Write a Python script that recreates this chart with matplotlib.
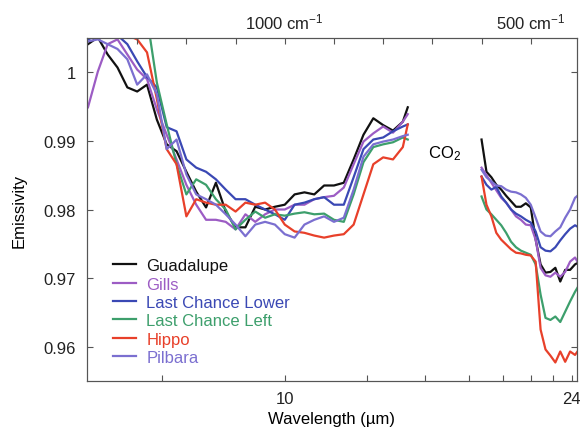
import matplotlib
matplotlib.use('Agg')
import matplotlib.pyplot as plt

plt.rcParams['font.family'] = ['Liberation Sans', 'DejaVu Sans']
plt.rcParams['font.size'] = 12
plt.rcParams['mathtext.fontset'] = 'custom'
plt.rcParams['mathtext.rm'] = 'Liberation Sans'
plt.rcParams['mathtext.default'] = 'regular'

# wavenumbers (cm-1) of the two spectral windows either side of the CO2 band
wn_short = [1400, 1380, 1360, 1340, 1320, 1300, 1280, 1260, 1240, 1220, 1200, 1180,
            1160, 1140, 1120, 1100, 1080, 1060, 1040, 1020, 1000, 980, 960, 940,
            920, 900, 880, 860, 840, 820, 800, 780, 760, 750]
wn_long = [600, 590, 580, 570, 560, 550, 540, 530, 520, 510, 500, 490, 480, 470,
           460, 450, 440, 430, 420, 410, 405]

guadalupe_short = [1.0041, 1.0051, 1.0026, 1.0007, 0.9978, 0.9972, 0.9982, 0.9931, 0.9895, 0.9885,
                   0.9855, 0.9826, 0.9803, 0.9839, 0.9797, 0.9774, 0.9774, 0.9804, 0.9800, 0.9804,
                   0.9807, 0.9822, 0.9825, 0.9822, 0.9835, 0.9835, 0.9839, 0.9873, 0.9909, 0.9933,
                   0.9923, 0.9915, 0.9928, 0.9949]
gills_short = [0.9949, 1.0001, 1.0041, 1.0048, 1.0026, 1.0004, 0.9990, 0.9946, 0.9909, 0.9873,
               0.9836, 0.9807, 0.9785, 0.9785, 0.9782, 0.9771, 0.9793, 0.9782, 0.9793, 0.9800,
               0.9800, 0.9807, 0.9807, 0.9815, 0.9818, 0.9820, 0.9832, 0.9866, 0.9899, 0.9911,
               0.9921, 0.9912, 0.9928, 0.9939]
lc_lower_short = [1.0048, 1.0054, 1.0051, 1.0054, 1.0041, 1.0016, 0.9993, 0.9978, 0.9920, 0.9914,
                  0.9873, 0.9861, 0.9855, 0.9844, 0.9829, 0.9815, 0.9815, 0.9807, 0.9800, 0.9793,
                  0.9785, 0.9807, 0.9810, 0.9815, 0.9818, 0.9807, 0.9807, 0.9847, 0.9888, 0.9902,
                  0.9905, 0.9914, 0.9921, 0.9924]
lc_left_short = [1.008, 1.008, 1.008, 1.008, 1.008, 1.008, 1.008, 0.9985, 0.9924, 0.9866,
                 0.9822, 0.9844, 0.9836, 0.9815, 0.9800, 0.9771, 0.9785, 0.9797, 0.9788, 0.9793,
                 0.9791, 0.9794, 0.9796, 0.9793, 0.9794, 0.9785, 0.9782, 0.9822, 0.9869, 0.9891,
                 0.9895, 0.9898, 0.9905, 0.9902]
hippo_short = [1.0051, 1.0054, 1.0054, 1.0051, 1.0054, 1.0048, 1.0029, 0.9961, 0.9888, 0.9866,
               0.9790, 0.9815, 0.9810, 0.9807, 0.9807, 0.9797, 0.9810, 0.9807, 0.9810, 0.9800,
               0.9778, 0.9768, 0.9766, 0.9762, 0.9759, 0.9762, 0.9764, 0.9778, 0.9822, 0.9866,
               0.9876, 0.9873, 0.9891, 0.9924]
pilbara_short = [1.0045, 1.0048, 1.0041, 1.0034, 1.0019, 0.9982, 0.9997, 0.9968, 0.9888, 0.9902,
                 0.9851, 0.9822, 0.9815, 0.9807, 0.9793, 0.9778, 0.9761, 0.9778, 0.9782, 0.9778,
                 0.9764, 0.9759, 0.9778, 0.9785, 0.9790, 0.9782, 0.9788, 0.9829, 0.9877, 0.9895,
                 0.9899, 0.9902, 0.9907, 0.9909]

guadalupe_long = [0.9902, 0.9855, 0.9847, 0.9836, 0.9829, 0.9820, 0.9812, 0.9804, 0.9804, 0.9809,
                  0.9803, 0.9756, 0.9720, 0.9708, 0.9709, 0.9715, 0.9695, 0.9712, 0.9712, 0.9720, 0.9722]
gills_long = [0.9861, 0.9850, 0.9839, 0.9828, 0.9817, 0.9810, 0.9800, 0.9790, 0.9785, 0.9778,
              0.9777, 0.9756, 0.9715, 0.9704, 0.9702, 0.9708, 0.9702, 0.9709, 0.9724, 0.9730, 0.9724]
lc_lower_long = [0.9848, 0.9836, 0.9829, 0.9833, 0.9819, 0.9810, 0.9800, 0.9794, 0.9790, 0.9785,
                 0.9781, 0.9768, 0.9745, 0.9740, 0.9739, 0.9745, 0.9755, 0.9764, 0.9772, 0.9777, 0.9775]
lc_left_long = [0.9819, 0.9800, 0.9793, 0.9785, 0.9777, 0.9766, 0.9753, 0.9745, 0.9740, 0.9737,
                0.9734, 0.9720, 0.9676, 0.9642, 0.9639, 0.9644, 0.9636, 0.9651, 0.9666, 0.9680, 0.9686]
hippo_long = [0.9848, 0.9807, 0.9790, 0.9766, 0.9756, 0.9749, 0.9742, 0.9737, 0.9736, 0.9734,
              0.9733, 0.9724, 0.9625, 0.9596, 0.9587, 0.9577, 0.9593, 0.9578, 0.9593, 0.9588, 0.9593]
pilbara_long = [0.9858, 0.9847, 0.9841, 0.9835, 0.9834, 0.9829, 0.9826, 0.9825, 0.9822, 0.9817,
                0.9807, 0.9788, 0.9768, 0.9762, 0.9761, 0.9768, 0.9774, 0.9788, 0.9800, 0.9817, 0.9820]

names = ['Guadalupe', 'Gills', 'Last Chance Lower', 'Last Chance Left', 'Hippo', 'Pilbara']
colors = ['#111111', '#9c5cc4', '#3a48b4', '#3d9f6c', '#e8402a', '#7b6fd0']
short_series = [guadalupe_short, gills_short, lc_lower_short, lc_left_short, hippo_short, pilbara_short]
long_series = [guadalupe_long, gills_long, lc_lower_long, lc_left_long, hippo_long, pilbara_long]

# bottom axis shows wavelength, top axis wavenumber
wl_ticks = [8, 10, 12, 14, 16, 18, 20, 22, 24]
wl_labels = ['', '10', '', '', '', '', '', '', '24']
wn_ticks = [1300, 1200, 1100, 1000, 900, 800, 700, 600, 500]
wn_labels = ['', '', '', '1000 cm$^{-1}$', '', '', '', '', '500 cm$^{-1}$']
y_ticks = [0.96, 0.97, 0.98, 0.99, 1.0]
y_labels = ['0.96', '0.97', '0.98', '0.99', '1']

fig = plt.figure(figsize=(5.8, 4.31), dpi=100)
ax = fig.add_axes([0.15, 0.1137, 0.8448, 0.7958])

for name, color, s1, s2 in zip(names, colors, short_series, long_series):
    ax.plot(wn_short, s1, color=color, lw=1.6, label=name)
    ax.plot(wn_long, s2, color=color, lw=1.6)

ax.set_xlim(1402, 406)
ax.set_ylim(0.955, 1.005)

ax.set_xticks([1e4 / w for w in wl_ticks])
ax.set_xticklabels(wl_labels)
ax.set_yticks(y_ticks)
ax.set_yticklabels(y_labels)
ax.tick_params(direction='in', length=4, right=True, top=False, colors='#555555',
               labelcolor='#222222')
ax.tick_params(axis='x', pad=7)
ax.tick_params(axis='y', pad=8)

top = ax.twiny()
top.set_xlim(ax.get_xlim())
top.set_xticks(wn_ticks)
top.set_xticklabels(wn_labels)
top.tick_params(direction='in', length=4, colors='#555555', labelcolor='#222222', pad=5)

for sp in list(ax.spines.values()) + list(top.spines.values()):
    sp.set_color('#555555')

ax.set_xlabel('Wavelength (\u00b5m)', labelpad=4)
ax.set_ylabel('Emissivity')
ax.yaxis.set_label_coords(-0.123, 0.5)

ax.text(675, 0.9883, 'CO$_2$', ha='center', va='center')

leg = ax.legend(loc='upper left', bbox_to_anchor=(0.053, 0.358), frameon=False,
                borderpad=0, borderaxespad=0, handlelength=1.4, handletextpad=0.6,
                labelspacing=0.2, labelcolor='linecolor')

fig.savefig('out.png', dpi=100)
